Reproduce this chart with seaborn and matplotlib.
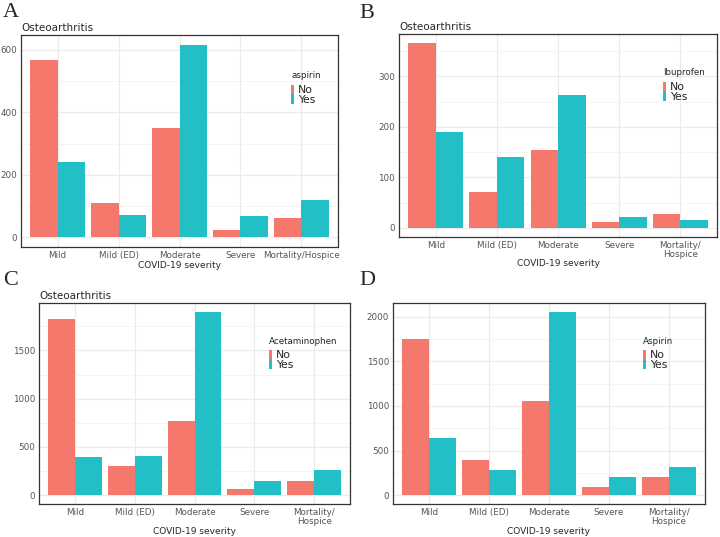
"""
Osteoarthritis patients by COVID-19 severity, split by drug use (4 panels).
"""

import matplotlib
matplotlib.use("Agg")
import matplotlib.pyplot as plt
from matplotlib.patches import Patch
from matplotlib.ticker import MultipleLocator
import seaborn as sns
import pandas as pd

severity = ["Mild", "Mild (ED)", "Moderate", "Severe", "Mortality/Hospice"]
severity_wrapped = ["Mild", "Mild (ED)", "Moderate", "Severe", "Mortality/\nHospice"]
groups = ["No", "Yes"]

aspirin_a_no = [568, 109, 350, 23, 63]
aspirin_a_yes = [240, 71, 616, 68, 119]

ibuprofen_no = [366, 70, 154, 11, 28]
ibuprofen_yes = [189, 140, 263, 21, 15]

acetaminophen_no = [1824, 300, 772, 66, 148]
acetaminophen_yes = [400, 410, 1900, 148, 259]

aspirin_d_no = [1757, 396, 1060, 86, 198]
aspirin_d_yes = [645, 280, 2056, 198, 317]

colors = ["#F5786D", "#22BFC6"]


def make_df(no_vals, yes_vals):
    rows = []
    for cat, n, y in zip(severity, no_vals, yes_vals):
        rows.append({"severity": cat, "drug": "No", "count": n})
        rows.append({"severity": cat, "drug": "Yes", "count": y})
    return pd.DataFrame(rows)


def draw_panel(ax, df, legend_title, major, title, ticklabels, leg_xy):
    sns.barplot(data=df, x="severity", y="count", hue="drug", order=severity,
                hue_order=groups, palette=colors, width=0.9, saturation=1,
                linewidth=0, edgecolor="none", legend=False, ax=ax)
    top = df["count"].max()
    ax.set_ylim(-0.05 * top, 1.05 * top)
    ax.set_xlim(-0.6, 4.6)
    ax.yaxis.set_major_locator(MultipleLocator(major))
    ax.yaxis.set_minor_locator(MultipleLocator(major / 2))
    ax.set_axisbelow(True)
    ax.grid(which="major", color="#EBEBEB", lw=0.9)
    ax.grid(which="minor", axis="y", color="#F2F2F2", lw=0.6)
    ax.tick_params(axis="y", which="minor", length=0)
    ax.tick_params(which="major", length=2, width=0.6, color="#333333",
                   labelsize=6.3, labelcolor="#555555", pad=0.8)
    ax.set_xticks(range(len(severity)))
    ax.set_xticklabels(ticklabels, linespacing=0.95)
    for s in ax.spines.values():
        s.set_color("#333333")
        s.set_linewidth(0.9)
    ax.set_xlabel("COVID-19 severity", fontsize=6.5, labelpad=0.5)
    ax.set_ylabel("")
    if title:
        ax.set_title(title, loc="left", fontsize=7.5, pad=3)
    handles = [Patch(facecolor=c, edgecolor="none") for c in colors]
    leg = ax.legend(handles, groups, title=legend_title, loc="upper left",
                    bbox_to_anchor=leg_xy, frameon=False, fontsize=7.8,
                    title_fontsize=6.3, handlelength=0.3, handleheight=1.0,
                    handletextpad=0.35, labelspacing=-0.1, borderpad=0,
                    borderaxespad=0, alignment="left")
    # ggplot leaves a bit more room between legend title and keys
    leg._legend_box.sep = 3


def main():
    sns.set_theme(style="white")
    plt.rcParams["font.family"] = ["DejaVu Sans"]

    fig = plt.figure(figsize=(7.2, 5.37), dpi=100)
    ax_a = fig.add_axes([0.0292, 0.5400, 0.4403, 0.3948])
    ax_b = fig.add_axes([0.5542, 0.5587, 0.4417, 0.3780])
    ax_c = fig.add_axes([0.0542, 0.0609, 0.4319, 0.3754])
    ax_d = fig.add_axes([0.5458, 0.0609, 0.4333, 0.3754])

    draw_panel(ax_a, make_df(aspirin_a_no, aspirin_a_yes), "aspirin", 200,
               "Osteoarthritis", severity, (0.852, 0.828))
    draw_panel(ax_b, make_df(ibuprofen_no, ibuprofen_yes), "Ibuprofen", 100,
               "Osteoarthritis", severity_wrapped, (0.830, 0.830))
    draw_panel(ax_c, make_df(acetaminophen_no, acetaminophen_yes),
               "Acetaminophen", 500, "Osteoarthritis", severity_wrapped,
               (0.740, 0.832))
    draw_panel(ax_d, make_df(aspirin_d_no, aspirin_d_yes), "Aspirin", 500,
               None, severity_wrapped, (0.801, 0.832))

    for letter, x, y in [("A", 0.004, 0.995), ("B", 0.499, 0.993),
                         ("C", 0.004, 0.495), ("D", 0.499, 0.495)]:
        fig.text(x, y, letter, fontsize=16, va="top", ha="left",
                 family=["Liberation Serif", "DejaVu Serif"])

    fig.savefig("out.png", dpi=100)


if __name__ == "__main__":
    main()
